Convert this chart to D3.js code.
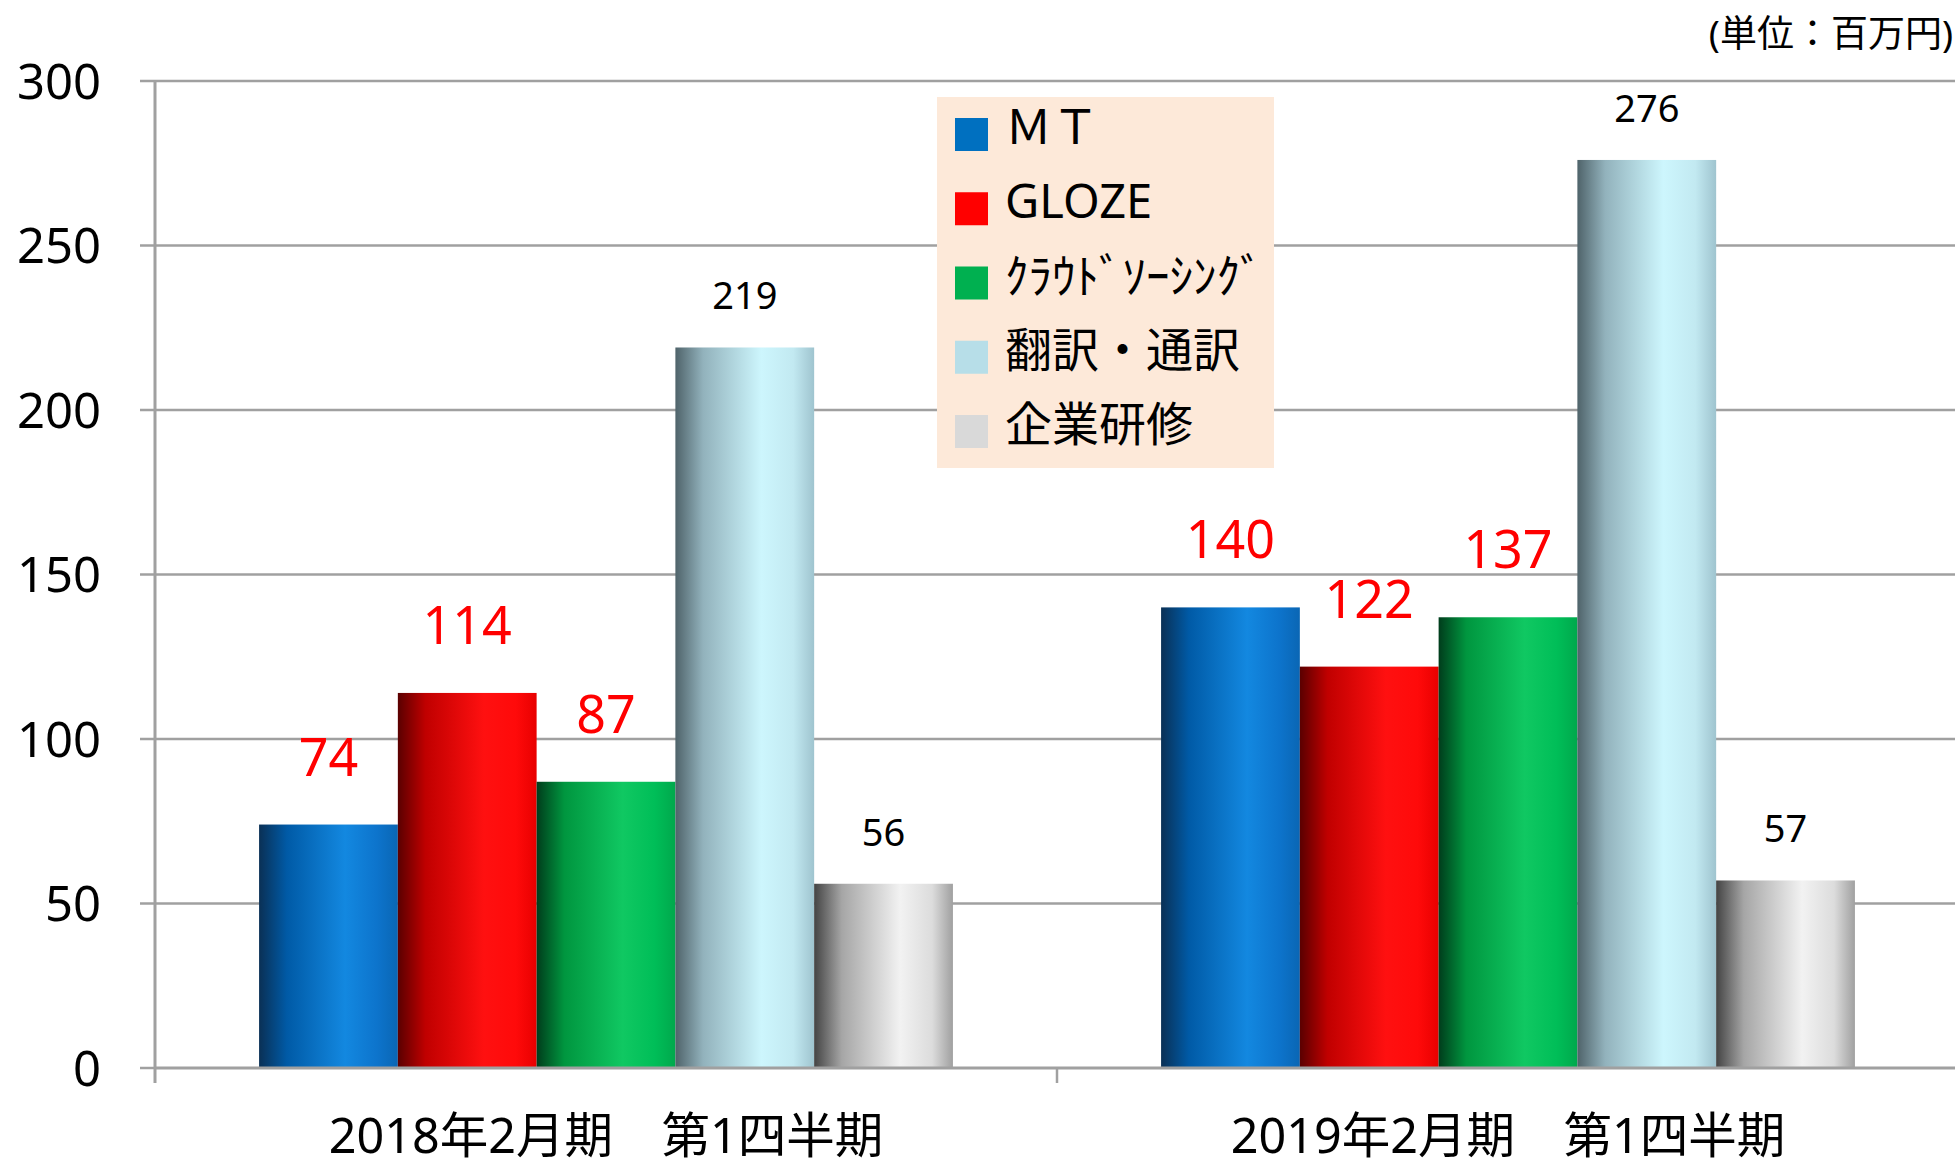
<!DOCTYPE html>
<html>
<head>
<meta charset="utf-8">
<script src="https://cdn.jsdelivr.net/npm/d3@7"></script>
<style>
  body { margin: 0; background: #fff; }
  svg { display: block; font-family: "Noto Sans", "Noto Sans CJK JP", sans-serif; }
</style>
</head>
<body>
<svg></svg>
<script>
const categories = ["2018年2月期　第1四半期", "2019年2月期　第1四半期"];
const seriesNames = ["ＭＴ", "GLOZE", "ｸﾗｳﾄﾞｿｰｼﾝｸﾞ", "翻訳・通訳", "企業研修"];
const values2018 = [74, 114, 87, 219, 56];
const values2019 = [140, 122, 137, 276, 57];
const yTicks = [0, 50, 100, 150, 200, 250, 300];

const width = 1955;
const height = 1169;
const svg = d3.select("svg").attr("width", width).attr("height", height);

// bar colours: flat legend colour + cylinder gradient stops
const swatch = ["#0070c0", "#ff0000", "#00b050", "#b7dee8", "#d9d9d9"];
const stops = [
  ["#0a3055", "#005aa6", "#1388e0", "#0d74cc", "#0a66b4"],
  ["#5a0000", "#c00000", "#ff1010", "#ff0a0a", "#e80000"],
  ["#003d1c", "#00963f", "#10c862", "#00be58", "#00a84c"],
  ["#4f636a", "#92b2bc", "#cdf6fd", "#c2e9f1", "#9fc4cf"],
  ["#444", "#a6a6a6", "#f2f2f2", "#dcdcdc", "#a0a0a0"],
];
const offsets = ["0%", "20%", "62%", "85%", "100%"];

const defs = svg.append("defs");
stops.forEach((s, i) => {
  const grad = defs.append("linearGradient").attr("id", "g" + i)
    .attr("x1", "0").attr("x2", "1").attr("y1", "0").attr("y2", "0");
  s.forEach((c, j) => grad.append("stop").attr("offset", offsets[j]).attr("stop-color", c));
});

// scales
const x = d3.scaleBand().domain(categories).range([155, 1959]);
const xs = d3.scaleBand().domain(seriesNames).range([0, x.bandwidth()]).paddingOuter(0.75);
const y = d3.scaleLinear().domain([0, 300]).range([1068, 81]);

// gridlines + y ticks
svg.append("g").selectAll("line").data(yTicks.filter(d => d > 0)).join("line")
  .attr("x1", 140).attr("x2", width)
  .attr("y1", d => y(d)).attr("y2", d => y(d))
  .attr("stroke", "#a0a0a0").attr("stroke-width", 2.5);

svg.append("g").selectAll("line").data([0]).join("line")
  .attr("x1", 140).attr("x2", 155)
  .attr("y1", y(0)).attr("y2", y(0))
  .attr("stroke", "#a0a0a0").attr("stroke-width", 2.5);

svg.append("g").selectAll("text").data(yTicks).join("text")
  .attr("x", 101).attr("y", d => y(d)).attr("dy", "0.36em")
  .attr("text-anchor", "end").attr("font-size", 49).attr("fill", "#000")
  .text(d => d);

// legend box
const legend = svg.append("g");
legend.append("rect").attr("x", 937).attr("y", 97).attr("width", 337).attr("height", 371)
  .attr("fill", "#fde9d9");
const legendRow = d3.scalePoint().domain(seriesNames).range([118, 415]);
legend.selectAll("rect.sw").data(seriesNames).join("rect").attr("class", "sw")
  .attr("x", 955).attr("y", d => legendRow(d)).attr("width", 33).attr("height", 33)
  .attr("fill", (d, i) => swatch[i]);
legend.selectAll("text").data(seriesNames).join("text")
  .attr("x", 1005).attr("y", d => legendRow(d) + 26)
  .attr("font-size", 47).attr("fill", "#000")
  .text(d => d);

// bars
const groups = svg.append("g").selectAll("g").data(categories).join("g")
  .attr("transform", d => `translate(${x(d)},0)`);

const rows = [values2018, values2019];
groups.selectAll("rect").data((d, gi) => rows[gi].map((v, i) => ({ name: seriesNames[i], v, i })))
  .join("rect")
  .attr("x", d => xs(d.name)).attr("width", xs.bandwidth())
  .attr("y", d => y(d.v)).attr("height", d => y(0) - y(d.v))
  .attr("fill", d => `url(#g${d.i})`);

// value labels: first three series large red, rest small black
groups.selectAll("text").data((d, gi) => rows[gi].map((v, i) => ({ name: seriesNames[i], v, i })))
  .join("text")
  .attr("x", d => xs(d.name) + xs.bandwidth() / 2)
  .attr("y", d => y(d.v) - (d.i < 3 ? 49 : 38))
  .attr("text-anchor", "middle")
  .attr("font-size", d => d.i < 3 ? 52 : 38)
  .attr("fill", d => d.i < 3 ? "#ff0000" : "#000")
  .text(d => d.v);

// axes lines
svg.append("line").attr("x1", 155).attr("x2", width).attr("y1", y(0)).attr("y2", y(0))
  .attr("stroke", "#a0a0a0").attr("stroke-width", 3);
svg.append("line").attr("x1", 155).attr("x2", 155).attr("y1", y(300)).attr("y2", 1083)
  .attr("stroke", "#a0a0a0").attr("stroke-width", 3);
svg.append("g").selectAll("line").data(categories.slice(1)).join("line")
  .attr("x1", d => x(d)).attr("x2", d => x(d)).attr("y1", y(0)).attr("y2", 1083)
  .attr("stroke", "#a0a0a0").attr("stroke-width", 2.5);

// category labels
svg.append("g").selectAll("text").data(categories).join("text")
  .attr("x", d => x(d) + x.bandwidth() / 2).attr("y", 1153)
  .attr("text-anchor", "middle").attr("font-size", 48.5).attr("fill", "#000")
  .text(d => d);

// unit
svg.append("text").attr("x", 1953).attr("y", 47).attr("text-anchor", "end")
  .attr("font-size", 37).attr("fill", "#000").text("(単位：百万円)");
</script>
</body>
</html>
